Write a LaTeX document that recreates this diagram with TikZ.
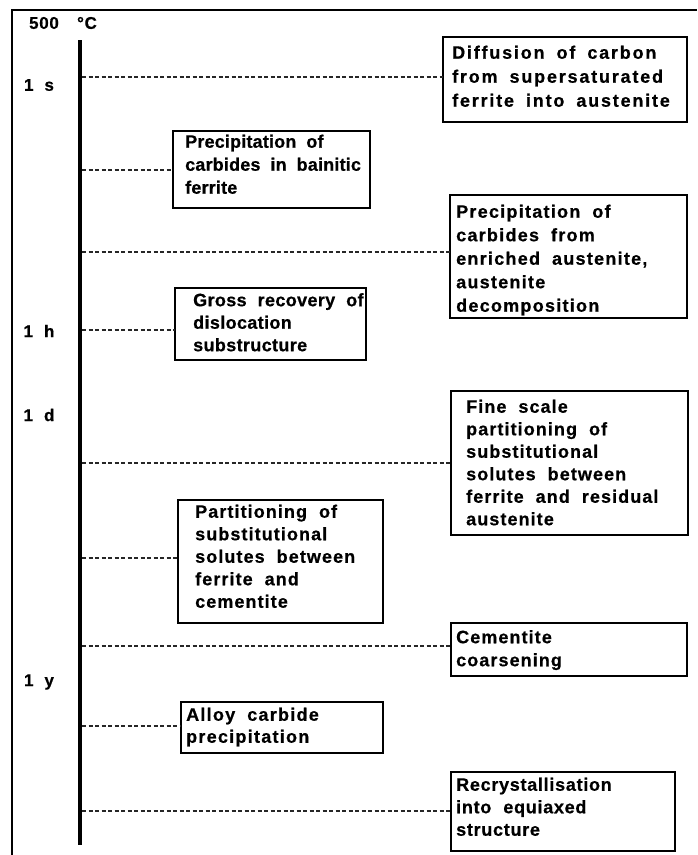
\documentclass[tikz,border=0pt]{standalone}
\usepackage{fontspec}
\newfontfamily\hv[FakeBold=0.6]{Liberation Sans}
\newcommand\txtfont[3]{\hv\bfseries\fontsize{18}{#1}\selectfont\addfontfeature{LetterSpace=#2}\spaceskip=#3pt\relax}
\newcommand\labfont{\hv\bfseries\fontsize{17}{20}\selectfont\addfontfeature{LetterSpace=4}\spaceskip=11pt\relax}
\begin{document}
\begin{tikzpicture}[x=1pt,y=-1pt,
  frame/.style={line width=1.3pt},
  axisline/.style={line width=4pt},
  conn/.style={line width=1.2pt, dash pattern=on 4pt off 2.5pt, black!85},
  box/.style={draw, line width=1.3pt, anchor=north west, inner sep=0pt, outer sep=0pt},
  txt/.style n args={3}{anchor=north west, inner sep=0pt, align=left, font={\txtfont{#1}{#2}{#3}}},
  lab/.style={inner sep=0pt, font={\labfont}}
]
\useasboundingbox (0,0) rectangle (697,855);
% frame
\coordinate (fbl) at (12,855);
\coordinate (ftl) at (12,10);
\coordinate (ftr) at (697,10);
\draw[frame] (fbl) -- (ftl) -- (ftr);
% axis
\coordinate (axtop) at (80,40);
\coordinate (axbot) at (80,845);
\draw[axisline] (axtop) -- (axbot);
% labels
\node[lab] (l500) at (44,23) {500};
\node[lab] (ldeg) at (87,23) {°C};
\node[lab] (l1s) at (39,85) {1 s};
\node[lab] (l1h) at (39,331) {1 h};
\node[lab] (l1d) at (39,415) {1 d};
\node[lab] (l1y) at (39,682) {1 y};
% boxes
\node[box, minimum width=244pt, minimum height=85pt] (b1) at (443,37) {};
\node[txt={24}{10}{12}] (t1) at (452,45.5) {Diffusion of carbon\\from supersaturated\\ferrite into austenite};
\node[box, minimum width=197pt, minimum height=77pt] (b2) at (173,131) {};
\node[txt={23}{1}{10}] (t2) at (185,134.5) {Precipitation of\\carbides in bainitic\\ferrite};
\node[box, minimum width=237pt, minimum height=123pt] (b3) at (450,195) {};
\node[txt={23.5}{7}{12}] (t3) at (456,204.5) {Precipitation of\\carbides from\\enriched austenite,\\austenite\\decomposition};
\node[box, minimum width=191pt, minimum height=72pt] (b4) at (175,288) {};
\node[txt={22.5}{2}{11}] (t4) at (193,293) {Gross recovery of\\dislocation\\substructure};
\node[box, minimum width=237pt, minimum height=144pt] (b5) at (451,391) {};
\node[txt={22.5}{6}{12}] (t5) at (466,399.5) {Fine scale\\partitioning of\\substitutional\\solutes between\\ferrite and residual\\austenite};
\node[box, minimum width=205pt, minimum height=123pt] (b6) at (178,500) {};
\node[txt={22.5}{6}{12}] (t6) at (195,504.5) {Partitioning of\\substitutional\\solutes between\\ferrite and\\cementite};
\node[box, minimum width=236pt, minimum height=53pt] (b7) at (451,623) {};
\node[txt={23}{6}{12}] (t7) at (456,630) {Cementite\\coarsening};
\node[box, minimum width=202pt, minimum height=51pt] (b8) at (181,702) {};
\node[txt={22}{7}{12}] (t8) at (186,707.5) {Alloy carbide\\precipitation};
\node[box, minimum width=224pt, minimum height=79pt] (b9) at (451,772) {};
\node[txt={22.5}{4}{12}] (t9) at (456,777.5) {Recrystallisation\\into equiaxed\\structure};
% connectors
\coordinate (a1) at (82,77);
\coordinate (a2) at (82,170);
\coordinate (a3) at (82,252);
\coordinate (a4) at (82,330);
\coordinate (a5) at (82,463);
\coordinate (a6) at (82,558);
\coordinate (a7) at (82,646);
\coordinate (a8) at (82,726);
\coordinate (a9) at (82,811);
\draw[conn] (a1) -- (a1 -| b1.west);
\draw[conn] (a2) -- (a2 -| b2.west);
\draw[conn] (a3) -- (a3 -| b3.west);
\draw[conn] (a4) -- (a4 -| b4.west);
\draw[conn] (a5) -- (a5 -| b5.west);
\draw[conn] (a6) -- (a6 -| b6.west);
\draw[conn] (a7) -- (a7 -| b7.west);
\draw[conn] (a8) -- (a8 -| b8.west);
\draw[conn] (a9) -- (a9 -| b9.west);
\end{tikzpicture}
\end{document}
